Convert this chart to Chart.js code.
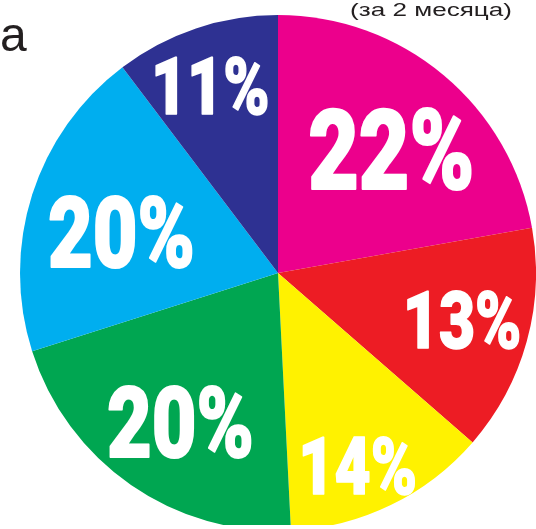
<!DOCTYPE html>
<html>
<head>
<meta charset="utf-8">
<script src="https://cdn.jsdelivr.net/npm/chart.js@4"></script>
<style>
  html, body { margin: 0; padding: 0; background: #fff; }
  #wrap { width: 536px; height: 525px; overflow: hidden; }
</style>
</head>
<body>
<div id="wrap"><canvas id="pie" width="536" height="540"></canvas></div>
<script>
  // shares, text as printed on the slices
  var pctLabels = ['22%', '13%', '14%', '20%', '20%', '11%'];
  var shares = [22.2, 14.2, 12.8, 20.9, 19.6, 10.3];
  var sliceColors = ['#EC008C', '#ED1C24', '#FFF200', '#00A651', '#00AEEF', '#2E3192'];

  // label styling: font size, distance from centre (fraction of radius), small angle nudge (deg)
  var labelSizes = [112, 80, 80, 99, 99, 80];
  var labelRadius = [0.65, 0.74, 0.81, 0.69, 0.63, 0.77];
  var labelTurn = [2.3, -1.3, 3.2, -1.3, -3.0, -1.1];
  var condense = 0.78;

  var sliceLabels = {
    id: 'sliceLabels',
    afterDatasetsDraw: function(chart) {
      var ctx = chart.ctx;
      var arcs = chart.getDatasetMeta(0).data;
      ctx.save();
      ctx.fillStyle = '#ffffff';
      ctx.strokeStyle = '#ffffff';
      ctx.lineJoin = 'round';
      ctx.textAlign = 'left';
      ctx.textBaseline = 'alphabetic';
      arcs.forEach(function(arc, i) {
        var p = arc.getProps(['x', 'y', 'startAngle', 'endAngle', 'outerRadius'], true);
        var mid = (p.startAngle + p.endAngle) / 2 + labelTurn[i] * Math.PI / 180;
        var r = p.outerRadius * labelRadius[i];
        var cx = p.x + Math.cos(mid) * r;
        var cy = p.y + Math.sin(mid) * r;
        ctx.font = '900 ' + labelSizes[i] + 'px Roboto';
        var m = ctx.measureText(pctLabels[i]);
        var inkW = m.actualBoundingBoxRight + m.actualBoundingBoxLeft;
        var baseY = cy + (m.actualBoundingBoxAscent - m.actualBoundingBoxDescent) / 2;
        ctx.save();
        ctx.translate(cx, baseY);
        ctx.scale(condense, 1);
        // thin stroke thickens the strokes a little, closer to the heavy condensed face
        ctx.lineWidth = labelSizes[i] * 0.02;
        ctx.strokeText(pctLabels[i], -inkW / 2 + m.actualBoundingBoxLeft, 0);
        ctx.fillText(pctLabels[i], -inkW / 2 + m.actualBoundingBoxLeft, 0);
        ctx.restore();
      });
      ctx.restore();
    },
    afterDraw: function(chart) {
      var ctx = chart.ctx;
      ctx.save();
      ctx.fillStyle = '#231f20';
      ctx.textBaseline = 'alphabetic';
      ctx.textAlign = 'left';
      ctx.font = '48px "Liberation Sans"';
      ctx.fillText('а', 0, 51);
      ctx.translate(350, 15.5);
      ctx.scale(1.45, 1);
      ctx.font = '18px "Liberation Sans"';
      ctx.fillText('(за 2 месяца)', 0, 0);
      ctx.restore();
    }
  };

  var ctx = document.getElementById('pie').getContext('2d');
  var myChart = new Chart(ctx, {
    type: 'pie',
    data: {
      labels: pctLabels,
      datasets: [{
        data: shares,
        backgroundColor: sliceColors,
        borderWidth: 0
      }]
    },
    options: {
      responsive: false,
      animation: false,
      layout: { padding: { left: 20, right: 0, top: 15, bottom: 9 } },
      plugins: {
        legend: { display: false },
        tooltip: { enabled: false }
      }
    },
    plugins: [sliceLabels]
  });
</script>
</body>
</html>
